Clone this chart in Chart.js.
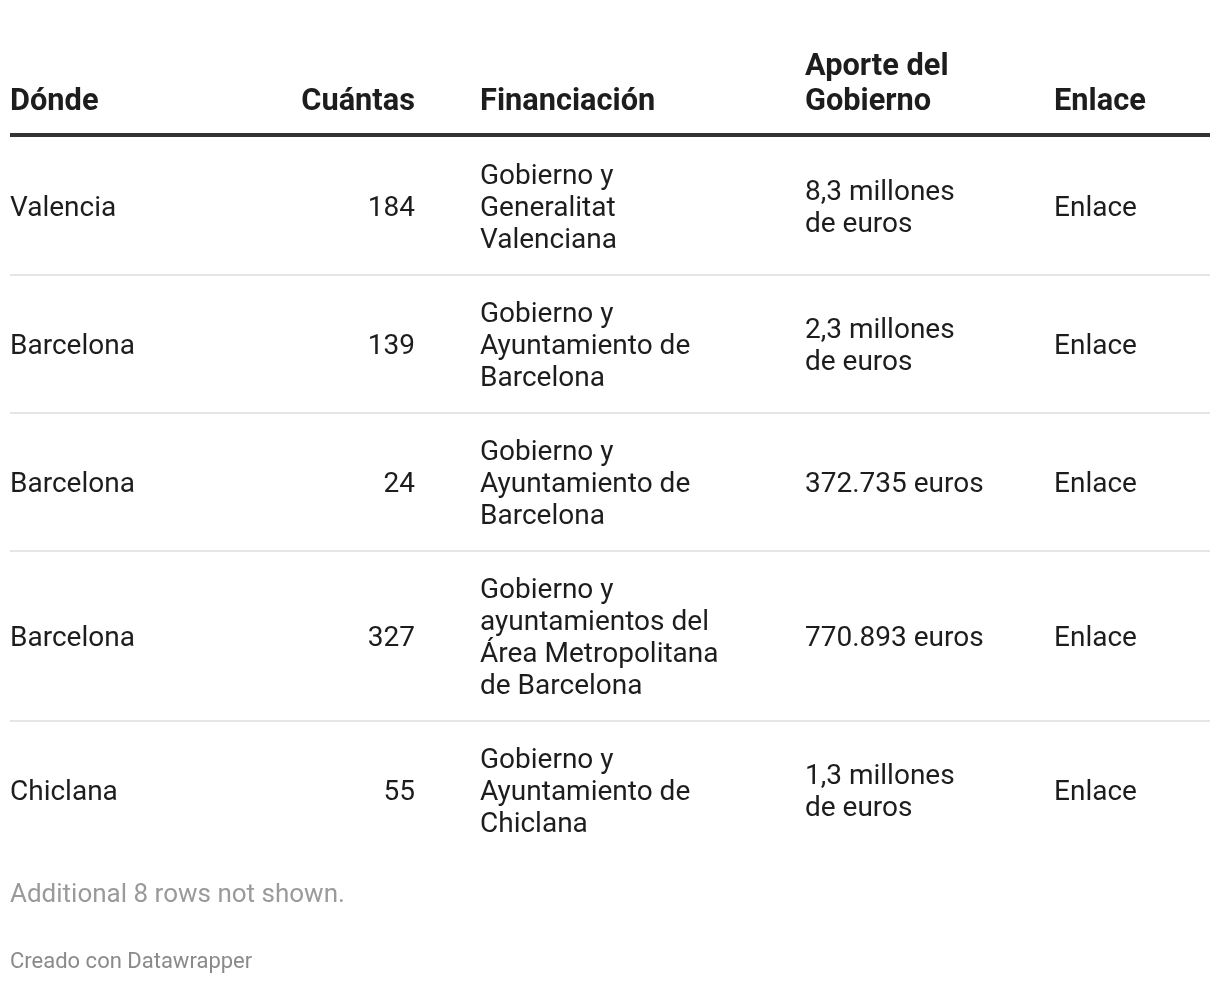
<!DOCTYPE html>
<html>
<head>
<meta charset="utf-8">
<script src="https://cdn.jsdelivr.net/npm/chart.js@4.4.0/dist/chart.umd.min.js"></script>
<style>
  html, body { margin: 0; padding: 0; background: #fff; }
  #wrap { width: 1220px; height: 984px; }
</style>
</head>
<body>
<div id="wrap"><canvas id="tableChart" width="1220" height="984"></canvas></div>
<script>
// table contents
var headers = [['Dónde'], ['Cuántas'], ['Financiación'], ['Aporte del', 'Gobierno'], ['Enlace']];
var donde = ['Valencia', 'Barcelona', 'Barcelona', 'Barcelona', 'Chiclana'];
var cuantas = [184, 139, 24, 327, 55];
var financiacion = [
    ['Gobierno y', 'Generalitat', 'Valenciana'],
    ['Gobierno y', 'Ayuntamiento de', 'Barcelona'],
    ['Gobierno y', 'Ayuntamiento de', 'Barcelona'],
    ['Gobierno y', 'ayuntamientos del', 'Área Metropolitana', 'de Barcelona'],
    ['Gobierno y', 'Ayuntamiento de', 'Chiclana']
];
var aporte = [
    ['8,3 millones', 'de euros'],
    ['2,3 millones', 'de euros'],
    ['372.735 euros'],
    ['770.893 euros'],
    ['1,3 millones', 'de euros']
];
var enlace = ['Enlace', 'Enlace', 'Enlace', 'Enlace', 'Enlace'];
var notShown = 'Additional 8 rows not shown.';
var credit = 'Creado con Datawrapper';

// layout (x in table units, y in text lines)
var colX = [0, 405, 470, 795, 1044];
var colAlign = ['left', 'right', 'left', 'left', 'left'];
var rowPad = 1.3125;

var rowLines = donde.map(function(d, i) {
    return Math.max(1, financiacion[i].length, aporte[i].length);
});
var rowStart = [];
var total = 0;
for (let i = 0; i < rowLines.length; i++) {
    rowStart.push(total);
    total += rowLines[i] + rowPad;
}

function cells(i) {
    return [[donde[i]], [String(cuantas[i])], financiacion[i], aporte[i], [enlace[i]]];
}

var tablePlugin = {
    id: 'tablePlugin',
    afterDraw: function(chart) {
        var ctx = chart.ctx;
        var x = chart.scales.x;
        var y = chart.scales.y;
        var area = chart.chartArea;
        ctx.save();

        // header
        ctx.fillStyle = '#1d1d1d';
        ctx.font = 'bold 30.75px Roboto';
        ctx.textBaseline = 'alphabetic';
        headers.forEach(function(h, c) {
            ctx.textAlign = colAlign[c];
            for (let k = 0; k < h.length; k++) {
                var base = area.top - 27 - (h.length - 1 - k) * 35.5;
                ctx.fillText(h[k], x.getPixelForValue(colX[c]), base);
            }
        });
        ctx.fillStyle = '#333333';
        ctx.fillRect(area.left, area.top - 4, area.right - area.left, 4);

        // rows
        ctx.font = '28px Roboto';
        ctx.textBaseline = 'middle';
        for (let i = 0; i < donde.length; i++) {
            var mid = rowStart[i] + (rowLines[i] + rowPad) / 2;
            var row = cells(i);
            ctx.fillStyle = '#1d1d1d';
            row.forEach(function(lines, c) {
                ctx.textAlign = colAlign[c];
                for (let k = 0; k < lines.length; k++) {
                    var v = mid - (lines.length - 1) / 2 + k;
                    ctx.fillText(lines[k], x.getPixelForValue(colX[c]), y.getPixelForValue(v) + 3);
                }
            });
            if (i < donde.length - 1) {
                var yb = Math.round(y.getPixelForValue(rowStart[i] + rowLines[i] + rowPad));
                ctx.fillStyle = '#e5e5e5';
                ctx.fillRect(area.left, yb - 1, area.right - area.left, 2);
            }
        }

        // notes
        ctx.textAlign = 'left';
        ctx.fillStyle = '#9a9a9a';
        ctx.font = '26px Roboto';
        ctx.fillText(notShown, area.left, area.bottom + 36);
        ctx.fillStyle = '#8a8a8a';
        ctx.font = '22px Roboto';
        ctx.fillText(credit, area.left, area.bottom + 103);
        ctx.restore();
    }
};

function drawTable() {
    new Chart(document.getElementById('tableChart'), {
        type: 'scatter',
        data: { datasets: [] },
        options: {
            responsive: false,
            animation: false,
            devicePixelRatio: 1,
            layout: { padding: { top: 137, bottom: 125, left: 10, right: 10 } },
            plugins: { legend: { display: false }, tooltip: { enabled: false } },
            scales: {
                x: { type: 'linear', min: 0, max: 1200, display: false },
                y: { type: 'linear', min: 0, max: total, reverse: true, display: false }
            }
        },
        plugins: [tablePlugin]
    });
}

Promise.all([
    document.fonts.load('28px Roboto'),
    document.fonts.load('bold 30.75px Roboto')
]).then(drawTable, drawTable);
</script>
</body>
</html>
